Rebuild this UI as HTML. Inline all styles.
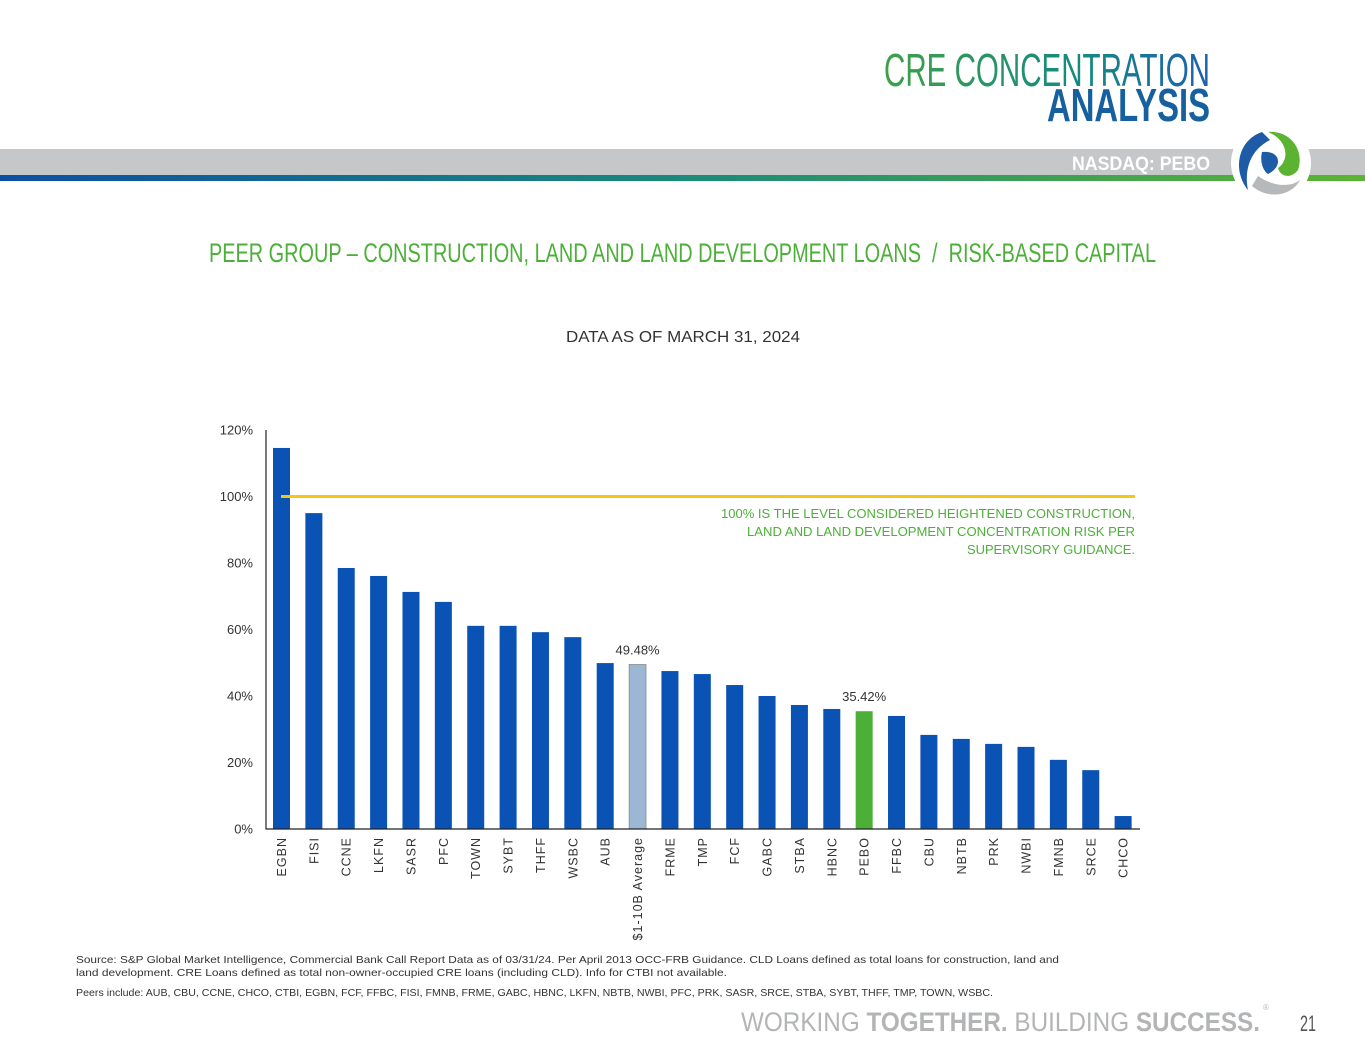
<!DOCTYPE html>
<html><head><meta charset="utf-8"><style>
html,body{margin:0;padding:0;background:#fff;}
svg{display:block;font-family:"Liberation Sans",sans-serif;}
</style></head><body>
<svg id="page" width="1365" height="1062" viewBox="0 0 1365 1062" xmlns="http://www.w3.org/2000/svg">
<defs>
<linearGradient id="hg" x1="0" x2="1"><stop offset="0" stop-color="#3fa04a"/><stop offset="0.6" stop-color="#148a80"/><stop offset="1" stop-color="#1d5fb0"/></linearGradient>
<linearGradient id="lg" x1="0" x2="1"><stop offset="0" stop-color="#0b4fa3"/><stop offset="0.5" stop-color="#1a8a7a"/><stop offset="1" stop-color="#5bb431"/></linearGradient>
</defs>
<g>
<text x="1210" y="86" text-anchor="end" font-size="46" fill="url(#hg)" textLength="326" lengthAdjust="spacingAndGlyphs">CRE CONCENTRATION</text>
<text x="1210" y="121" text-anchor="end" font-size="46" font-weight="bold" fill="#17609f" textLength="163" lengthAdjust="spacingAndGlyphs">ANALYSIS</text>
<rect x="0" y="149" width="1365" height="26" fill="#c6c7c9"/>
<rect x="0" y="175" width="1365" height="6" fill="url(#lg)"/>
<text x="1210" y="170" text-anchor="end" font-size="19" font-weight="bold" fill="#fff" textLength="138" lengthAdjust="spacingAndGlyphs">NASDAQ: PEBO</text>
<g>
<circle cx="1271" cy="163" r="40" fill="#fff"/>
<path d="M1262 132 C1238 140 1232 170 1248 190 C1244 170 1250 150 1270 140 Z" fill="#1d5ba6"/>
<path d="M1268 132 C1290 130 1305 150 1298 170 C1290 180 1280 176 1278 168 C1290 160 1288 140 1268 132 Z" fill="#5bb431"/>
<path d="M1252 186 C1268 200 1292 196 1300 180 C1290 188 1272 186 1258 176 Z" fill="#b7b8ba"/>
<path d="M1262 152 C1280 150 1284 166 1268 174 C1262 170 1260 160 1262 152 Z" fill="#1d5ba6"/>
</g>
</g>
<text x="209" y="262" font-size="27" fill="#4caf38" textLength="947" lengthAdjust="spacingAndGlyphs" xml:space="preserve">PEER GROUP – CONSTRUCTION, LAND AND LAND DEVELOPMENT LOANS  /  RISK-BASED CAPITAL</text>
<text x="566" y="342" font-size="16" fill="#333" textLength="234" lengthAdjust="spacingAndGlyphs">DATA AS OF MARCH 31, 2024</text>
<g id="chart"></g>
<g font-size="10.5" fill="#333">
<text x="76" y="963" textLength="983" lengthAdjust="spacingAndGlyphs">Source: S&amp;P Global Market Intelligence, Commercial Bank Call Report Data as of 03/31/24. Per April 2013 OCC-FRB Guidance. CLD Loans defined as total loans for construction, land and</text>
<text x="76" y="976" textLength="651" lengthAdjust="spacingAndGlyphs">land development. CRE Loans defined as total non-owner-occupied CRE loans (including CLD). Info for CTBI not available.</text>
<text x="76" y="996" textLength="917" lengthAdjust="spacingAndGlyphs">Peers include: AUB, CBU, CCNE, CHCO, CTBI, EGBN, FCF, FFBC, FISI, FMNB, FRME, GABC, HBNC, LKFN, NBTB, NWBI, PFC, PRK, SASR, SRCE, STBA, SYBT, THFF, TMP, TOWN, WSBC.</text>
</g>
<text x="741" y="1031" font-size="27" fill="#b3b4b6" textLength="519" lengthAdjust="spacingAndGlyphs">WORKING <tspan font-weight="bold">TOGETHER.</tspan> BUILDING <tspan font-weight="bold">SUCCESS.</tspan></text>
<text x="1263" y="1010" font-size="8" fill="#b3b4b6">®</text>
<text x="1300" y="1031" font-size="22" fill="#555" textLength="16" lengthAdjust="spacingAndGlyphs">21</text>
</svg>
<script>
const categories = ["EGBN","FISI","CCNE","LKFN","SASR","PFC","TOWN","SYBT","THFF","WSBC","AUB","$1-10B Average","FRME","TMP","FCF","GABC","STBA","HBNC","PEBO","FFBC","CBU","NBTB","PRK","NWBI","FMNB","SRCE","CHCO"];
const values = [114.6,95.0,78.5,76.1,71.3,68.3,61.1,61.1,59.2,57.7,49.9,49.48,47.5,46.6,43.3,40.0,37.3,36.1,35.42,34.0,28.3,27.1,25.6,24.7,20.8,17.7,3.9];
const yTicks = [0,20,40,60,80,100,120];
const threshold = 100;
const labeled = {"$1-10B Average":"49.48%","PEBO":"35.42%"};

const NS="http://www.w3.org/2000/svg";
const g=document.getElementById('chart');
const x0=266,x1=1140,yB=829,yT=430,yMax=120;
const y=v=>yB-(v/yMax)*(yB-yT);
const step=32.37, first=281.5, bw=17;
const xc=i=>first+i*step;
function el(t,a){const e=document.createElementNS(NS,t);for(const k in a)e.setAttribute(k,a[k]);g.appendChild(e);return e;}
yTicks.forEach(t=>{
  const e=el('text',{x:253,y:y(t)+4.5,'text-anchor':'end','font-size':13,fill:'#333'});
  e.textContent=t+'%';
  
  
});
categories.forEach((c,i)=>{
  const v=values[i];
  const fill=c==='PEBO'?'#4caf38':(c.startsWith('$')?'#9bb7d4':'#0a52b3');
  const r=el('rect',{x:xc(i)-bw/2,y:y(v),width:bw,height:yB-y(v),fill:fill,stroke:c.startsWith('$')?'#777':'none','stroke-width':0.6});
  
  
  const t=el('text',{transform:`translate(${xc(i)+4.5},${yB+8}) rotate(-90)`,'text-anchor':'end','font-size':12.5,fill:'#333','letter-spacing':'1'});
  t.textContent=c;
  
  
  if(labeled[c]){
    const l=el('text',{x:xc(i),y:y(v)-10,'text-anchor':'middle','font-size':13,fill:'#333'});
    l.textContent=labeled[c];
    
    
  }
});
const tl=el('line',{x1:281,x2:1135,y1:y(threshold),y2:y(threshold),stroke:'#f5c518','stroke-width':3});


const ax=el('path',{d:`M${x0} ${yT} V${yB} H${x1}`,fill:'none',stroke:'#222','stroke-width':1.2});


const annLines=["100% IS THE LEVEL CONSIDERED HEIGHTENED  CONSTRUCTION,","LAND AND LAND DEVELOPMENT CONCENTRATION RISK PER","SUPERVISORY GUIDANCE."];
const annWidths=[414,388,168];
annLines.forEach((s,k)=>{
  const a=el('text',{x:1135,y:518+k*18,'text-anchor':'end','font-size':12.5,fill:'#4caf38',textLength:annWidths[k],lengthAdjust:'spacingAndGlyphs'});
  a.textContent=s;
  
  
});
</script>
</body></html>
